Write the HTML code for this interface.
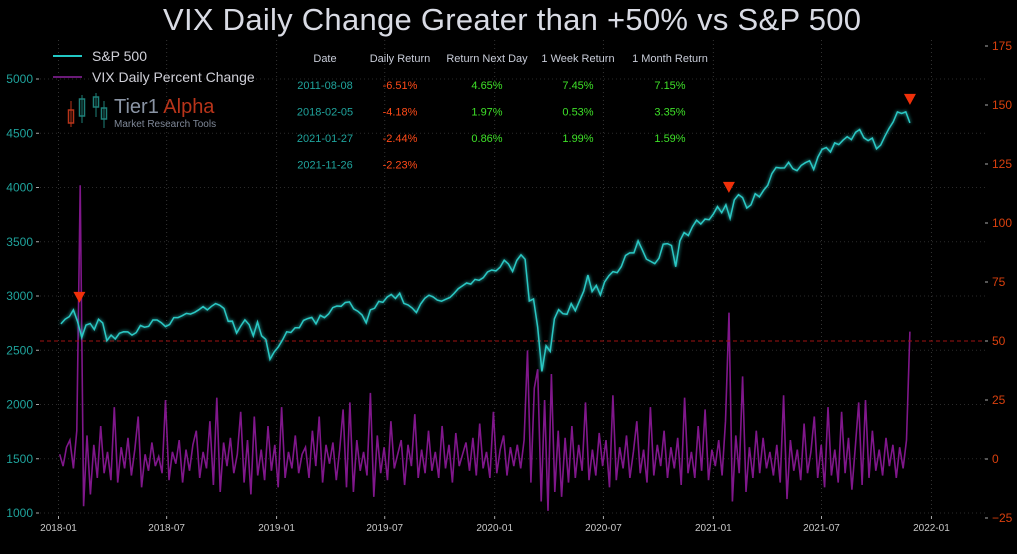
<!DOCTYPE html>
<html><head><meta charset="utf-8"><style>
body{margin:0;background:#000;width:1017px;height:549px;overflow:hidden;font-family:"Liberation Sans",sans-serif}
svg text{font-family:"Liberation Sans",sans-serif}
</style></head><body>
<svg id="c" width="1017" height="549" viewBox="0 0 1017 549">
<defs><filter id="glow" x="-5%" y="-5%" width="110%" height="110%"><feGaussianBlur stdDeviation="1.8" result="b"/><feMerge><feMergeNode in="b"/><feMergeNode in="SourceGraphic"/></feMerge></filter></defs>
<text x="512" y="30" text-anchor="middle" font-size="31" fill="#d9dbe4" textLength="698">VIX Daily Change Greater than +50% vs S&amp;P 500</text>
<g id="grid"></g><g id="axes"></g><g id="series"></g>
<g>
<line x1="53" y1="56" x2="82" y2="56" stroke="#22c8c4" stroke-width="2"/>
<text x="92" y="61" font-size="14" fill="#d0d0d8">S&amp;P 500</text>
<line x1="53" y1="77" x2="82" y2="77" stroke="#6a1a78" stroke-width="2"/>
<text x="92" y="82" font-size="14" fill="#d0d0d8">VIX Daily Percent Change</text>
</g>
<g>
<line x1="71" y1="101" x2="71" y2="127" stroke="#b8341a"/><rect x="68.5" y="110" width="5" height="13" fill="none" stroke="#b8341a" stroke-width="1.5"/>
<line x1="82" y1="95" x2="82" y2="123" stroke="#1e7f78"/><rect x="79.5" y="99" width="5" height="17" fill="none" stroke="#1e7f78" stroke-width="1.5"/>
<line x1="96" y1="93" x2="96" y2="117" stroke="#1e7f78"/><rect x="93.5" y="97" width="5" height="10" fill="none" stroke="#1e7f78" stroke-width="1.5"/>
<line x1="104" y1="101" x2="104" y2="128" stroke="#1e7f78"/><rect x="101.5" y="108" width="5" height="11" fill="none" stroke="#1e7f78" stroke-width="1.5"/>
<text x="114" y="113" font-size="20" fill="#8a94a4">Tier1 <tspan fill="#b8341a">Alpha</tspan></text>
<text x="114" y="127" font-size="10" fill="#7f8898">Market  Research Tools</text>
</g>
<g id="table"></g>
</svg>
<script>
const spx = [2743,2786,2810,2872,2762,2619,2732,2747,2691,2786,2752,2588,2640,2604,2656,2670,2669,2640,2663,2728,2712,2721,2779,2779,2754,2718,2736,2801,2801,2818,2840,2833,2850,2874,2902,2872,2905,2930,2914,2885,2767,2768,2658,2723,2781,2736,2632,2760,2633,2600,2416,2485,
2532,2596,2670,2664,2707,2707,2775,2792,2803,2743,2822,2800,2834,2893,2908,2905,2940,2946,2881,2860,2826,2752,2873,2887,2950,2942,2990,3014,2977,3026,2932,2918,2889,2847,2926,2979,3007,2992,2962,2952,2970,2986,3023,3067,3093,3120,3110,3153,3145,3169,3221,3240,3231,
3265,3330,3295,3226,3328,3380,3338,2954,2972,2711,2305,2541,2489,2790,2875,2837,2831,2930,2864,2955,3044,3193,3041,3098,3009,3130,3185,3225,3215,3271,3373,3397,3397,3508,3426,3340,3319,3298,3348,3477,3483,3465,3270,3509,3585,3557,3638,3699,3663,3709,3703,3756,
3824,3768,3841,3714,3886,3934,3907,3811,3841,3943,3913,3974,4019,4128,4185,4180,4181,4232,4173,4155,4204,4229,4247,4166,4280,4352,4369,4327,4411,4395,4436,4468,4441,4509,4535,4458,4432,4455,4357,4391,4471,4544,4605,4697,4682,4697,4595];
const vix = [2,-3,5,8,-4,12,116,-20,10,-15, 6,-8,14,-6,3,-9,22,-10,5,-4, 9,-7,4,18,-12,2,-5,7,-3,1, -6,25,-9,3,-2,8,-10,4,-5,6,
12,-8,3,-4,16,-11,26,-14,7,-3, 9,-6,2,20,-10,8,-15,18,-7,4, -9,14,-5,6,-12,22,-8,3,-4,10, -6,2,5,-8,12,-3,18,-10,6,-2,
7,-9,4,21,-12,24,-14,8,-5,3, -7,28,-16,10,-6,5,-9,16,-4,2, 8,-11,6,-3,19,-8,4,-6,12,-5, 3,-8,14,-4,6,-10,11,-3,2,7,
-5,9,-7,15,-4,3,-8,20,-6,4, 10,-7,5,-3,6,-4,8,46,-10,30, 38,-18,25,-22,36,-14,12,-16,9,-10, 14,-8,6,-5,24,-9,4,-7,11,-3,
8,-12,27,-9,5,-4,10,-8,3,16, -6,4,-10,22,-7,6,-3,12,-8,5, -4,9,-11,26,-6,3,-8,14,-5,21, -9,4,-3,8,-7,16,62,-18,10,-6,
35,-14,5,-8,12,-6,9,-4,3,-7, 6,-10,27,-17,8,-5,4,-9,15,-6, 3,18,-8,6,-12,22,-7,4,-10,20, -6,9,-13,5,24,-11,25,-8,12,-5, 4,-7,9,-3,6,-8,5,-4,8,54];
const leftTicks = [1000,1500,2000,2500,3000,3500,4000,4500,5000];
const rightTicks = [-25,0,25,50,75,100,125,150,175];
const xTicks = ["2018-01","2018-07","2019-01","2019-07","2020-01","2020-07","2021-01","2021-07","2022-01"];
const signalDates = ["2018-02-05","2021-01-27","2021-11-26"];
const tableHeader = ["Date","Daily Return","Return Next Day","1 Week Return","1 Month Return"];
const tableRows = [["2011-08-08","-6.51%","4.65%","7.45%","7.15%"],["2018-02-05","-4.18%","1.97%","0.53%","3.35%"],["2021-01-27","-2.44%","0.86%","1.99%","1.59%"],["2021-11-26","-2.23%","","",""]];

const NS="http://www.w3.org/2000/svg";
function mk(p,t,a){const e=document.createElementNS(NS,t);for(const k in a)e.setAttribute(k,a[k]);p.appendChild(e);return e;}
const day=86400000, t0=Date.UTC(2018,0,1);
const xD=d=>58.5+(d-t0)/day*0.5975;
const xS=s=>{const p=s.split('-');return xD(Date.UTC(+p[0],+p[1]-1,p[2]?+p[2]:1));};
const yL=v=>513-(v-1000)*0.1085;
const yR=v=>459-v*2.36;
const spxStart=Date.UTC(2018,0,5), spxEnd=Date.UTC(2021,10,26);
const vixStart=Date.UTC(2018,0,3), vixEnd=Date.UTC(2021,10,26);
const spxX=i=>xD(spxStart+i*(spxEnd-spxStart)/(spx.length-1));
const vixX=i=>xD(vixStart+i*(vixEnd-vixStart)/(vix.length-1));
const G=document.getElementById('grid'),A=document.getElementById('axes'),S=document.getElementById('series');

xTicks.forEach(t=>{const x=xS(t);
 const g=mk(G,'line',{x1:x,y1:40,x2:x,y2:513,stroke:'#333',"stroke-dasharray":'1 3'});
 
 
 mk(A,'line',{x1:x,y1:516,x2:x,y2:519,stroke:'#aaa'});
 const l=mk(A,'text',{x:x,y:531,"text-anchor":'middle',"font-size":10,fill:'#c8c8c8'});l.textContent=t;
 
 
});
leftTicks.forEach(v=>{const y=yL(v);
 const g=mk(G,'line',{x1:40,y1:y,x2:985,y2:y,stroke:'#2a2a2a',"stroke-dasharray":'1 3'});
 
 
 mk(A,'line',{x1:36,y1:y,x2:39,y2:y,stroke:'#aaa'});
 const l=mk(A,'text',{x:33,y:y+4,"text-anchor":'end',"font-size":12,fill:'#1fa39c'});l.textContent=v;
 
 
});
rightTicks.forEach(v=>{const y=yR(v);
 mk(A,'line',{x1:985,y1:y,x2:988,y2:y,stroke:'#aaa'});
 const l=mk(A,'text',{x:992,y:y+4,"font-size":12,fill:'#d9400e'});l.textContent=v<0?'\u2212'+(-v):v;
 
 
});
let pv=vix.map((v,i)=>vixX(i).toFixed(1)+','+yR(v).toFixed(1)).join(' ');
const vl=mk(S,'polyline',{points:pv,fill:'none',stroke:'#8e1a9a',"stroke-width":1.6,"stroke-opacity":0.9});


const th=mk(S,'line',{x1:40,y1:yR(50),x2:985,y2:yR(50),stroke:'#a01212',"stroke-width":1,"stroke-dasharray":'4 3'});


let ps=spx.map((v,i)=>spxX(i).toFixed(1)+','+yL(v).toFixed(1)).join(' ');
const sl=mk(S,'polyline',{points:ps,fill:'none',stroke:'#2cc8c4',"stroke-width":1.5,filter:'url(#glow)'});


signalDates.forEach(d=>{
 const p=d.split('-');const t=Date.UTC(+p[0],+p[1]-1,+p[2]);
 const i=Math.round((t-spxStart)/(spxEnd-spxStart)*(spx.length-1));
 const x=xD(t), y=yL(Math.max(spx[Math.max(0,i-1)],spx[i],spx[Math.min(spx.length-1,i+1)]))-12;
 const m=mk(S,'polygon',{points:`${x-6},${y-6} ${x+6},${y-6} ${x},${y+5}`,fill:'#f0300a'});
 
 
});
const T=document.getElementById('table');
const cx=[325,400,487,578,670];
tableHeader.forEach((h,j)=>{const e=mk(T,'text',{x:cx[j],y:62,"text-anchor":'middle',"font-size":11,fill:'#c8ccd8'});e.textContent=h;
 
 });
const cols=['#1fa39c','#ff4a18','#3ee028','#3ee028','#3ee028'];
tableRows.forEach((r,i)=>r.forEach((c,j)=>{if(!c)return;
 const e=mk(T,'text',{x:cx[j],y:89+i*26.5,"text-anchor":'middle',"font-size":11,fill:cols[j]});e.textContent=c;
 
 }));
</script>
</body></html>
